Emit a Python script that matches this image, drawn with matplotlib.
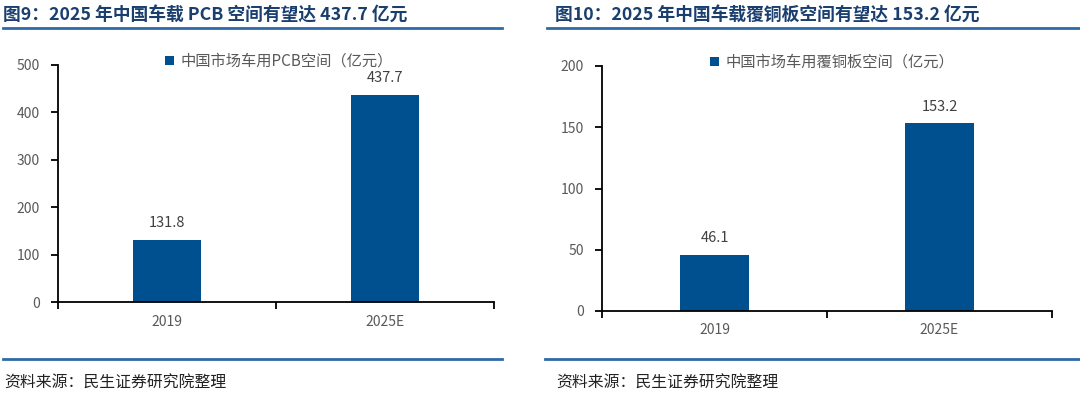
import matplotlib.pyplot as plt

plt.rcParams['font.family'] = ['Noto Sans CJK SC', 'DejaVu Sans']

# Data
years = ["2019", "2025E"]
pcb_values = [131.8, 437.7]
ccl_values = [46.1, 153.2]

titles = ["图9：2025 年中国车载 PCB 空间有望达 437.7 亿元",
          "图10：2025 年中国车载覆铜板空间有望达 153.2 亿元"]
legend_labels = ["中国市场车用PCB空间（亿元）", "中国市场车用覆铜板空间（亿元）"]
source_text = "资料来源：民生证券研究院整理"

BAR_COLOR = "#00508F"
TITLE_COLOR = "#1A3F6F"
LINE_COLOR = "#2F6AA8"
TICK_COLOR = "#595959"

W, H = 1080, 394
fig = plt.figure(figsize=(W / 100, H / 100), dpi=100)


def px_axes(x0, x1, ytop, ybot):
    return fig.add_axes([x0 / W, 1 - ybot / H, (x1 - x0) / W, (ybot - ytop) / H])


def draw_panel(ax, values, ymax, step, label, leg_x):
    x = list(range(len(years)))
    bars = ax.bar(x, values, width=0.31, color=BAR_COLOR, label=label, zorder=2)
    ax.set_xlim(-0.5, len(years) - 0.5)
    ax.set_ylim(0, ymax)
    ax.set_yticks(range(0, ymax + 1, step))
    for s in ["top", "right"]:
        ax.spines[s].set_visible(False)
    for s in ["left", "bottom"]:
        ax.spines[s].set_linewidth(1.3)
        ax.spines[s].set_color("black")
    ax.set_xticks([i - 0.5 for i in range(len(years) + 1)])
    ax.set_xticklabels([])
    ax.set_xticks(x, minor=True)
    ax.set_xticklabels(years, minor=True)
    ax.tick_params(axis="x", which="major", length=5, width=1.3, direction="out")
    ax.tick_params(axis="x", which="minor", length=0, pad=9, labelsize=10, labelcolor=TICK_COLOR)
    ax.tick_params(axis="y", length=5, width=1.3, labelsize=10, labelcolor=TICK_COLOR, pad=8)
    for b, v in zip(bars, values):
        ax.annotate(f"{v:.1f}", (b.get_x() + b.get_width() / 2, v),
                    xytext=(0, 7), textcoords="offset points",
                    ha="center", va="bottom", fontsize=10.5, color="#404040")
    leg = ax.legend(loc="center left", bbox_to_anchor=(leg_x, 1.015), frameon=False,
                    fontsize=11, handlelength=0.6, handleheight=0.6, handletextpad=0.4,
                    borderpad=0, borderaxespad=0)
    for t in leg.get_texts():
        t.set_color(TICK_COLOR)


ax1 = px_axes(58, 494, 65, 302)
draw_panel(ax1, pcb_values, 500, 100, legend_labels[0], (165 - 58) / 436)
ax2 = px_axes(602, 1052, 66, 311)
draw_panel(ax2, ccl_values, 200, 50, legend_labels[1], (710 - 602) / 450)

# Titles, rules and source notes
for tx, (l0, l1), (b0, b1), title in [(3, (3, 502), (3, 502), titles[0]),
                                       (555, (547, 1080), (545, 1080), titles[1])]:
    fig.text(tx / W, 1 - 16 / H, title, fontsize=12.8, fontweight="bold",
             color=TITLE_COLOR, va="center", ha="left")
    fig.add_artist(plt.Line2D([l0 / W, l1 / W], [1 - 28 / H, 1 - 28 / H],
                              color=LINE_COLOR, linewidth=2))
    fig.add_artist(plt.Line2D([b0 / W, b1 / W], [1 - 359 / H, 1 - 359 / H],
                              color=LINE_COLOR, linewidth=2))
    fig.text((tx + 1) / W, 1 - 383 / H, source_text, fontsize=11.4,
             color="#222222", va="center", ha="left")

fig.savefig("out.png", dpi=100)
